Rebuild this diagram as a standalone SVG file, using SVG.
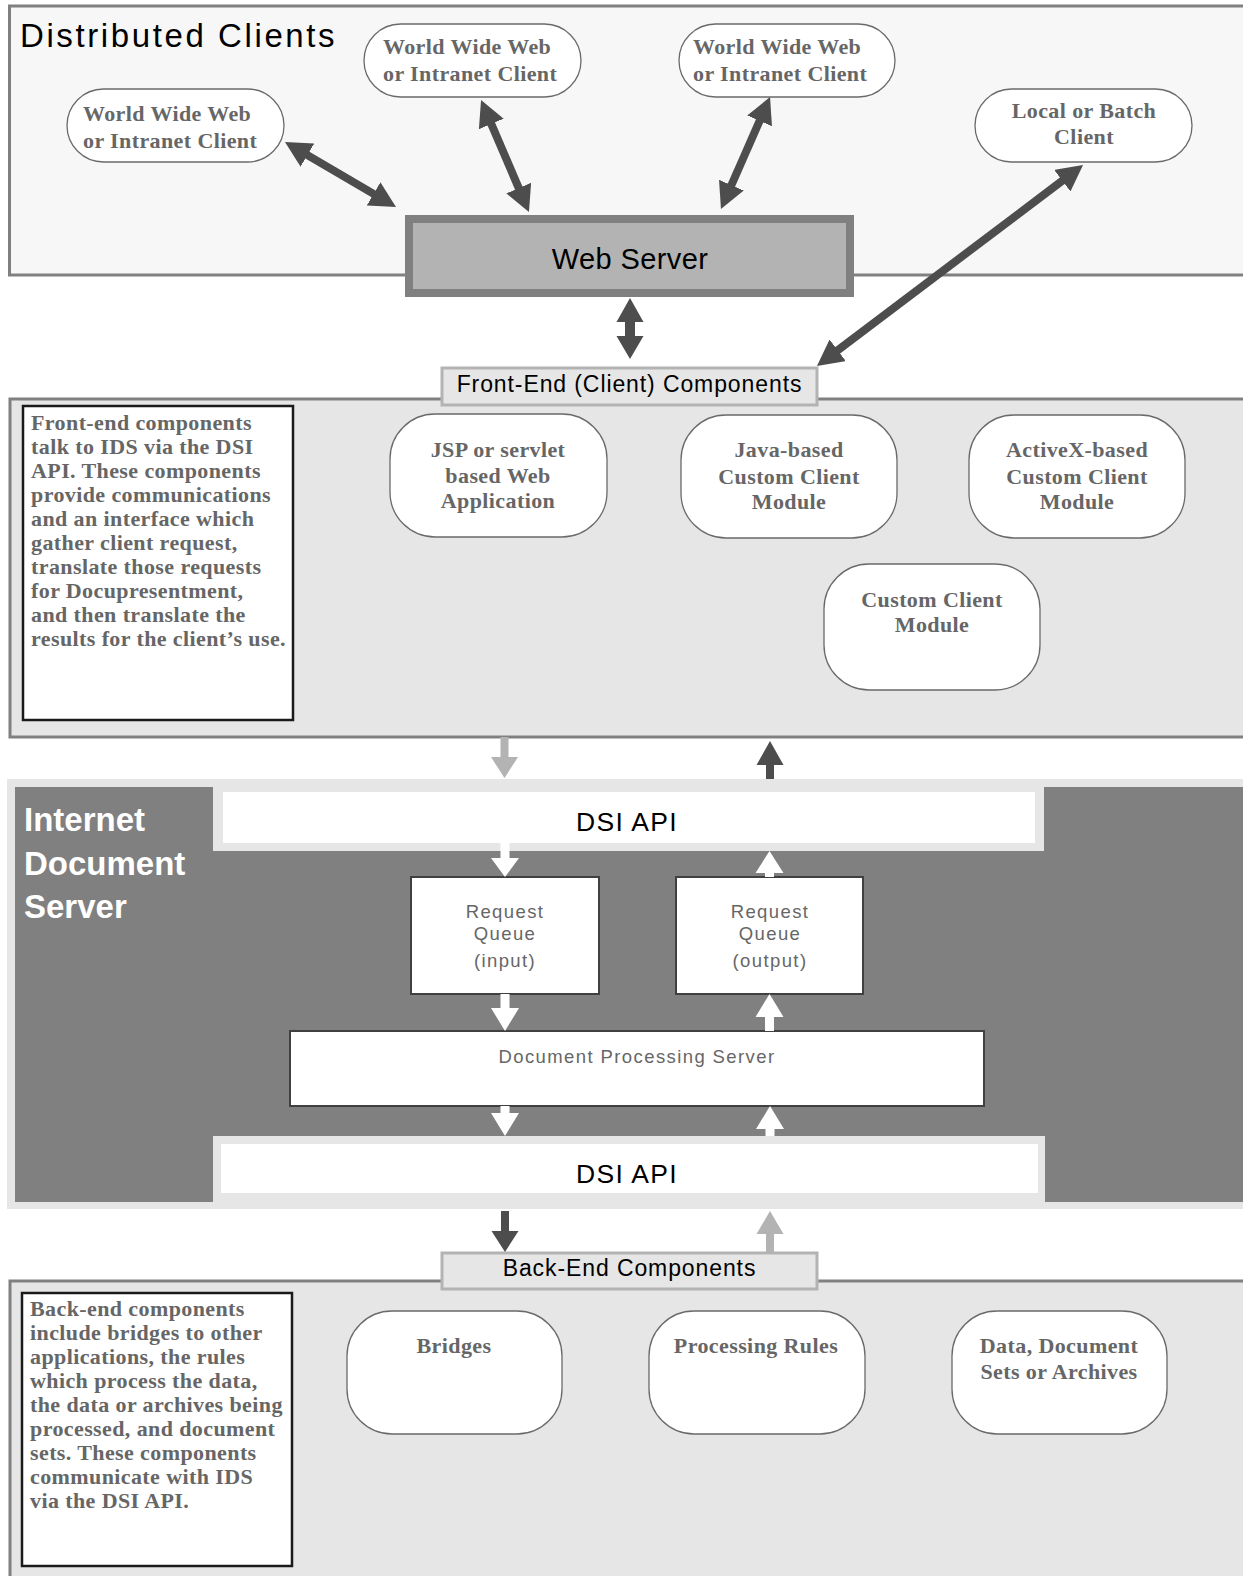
<svg xmlns="http://www.w3.org/2000/svg" width="1243" height="1576" viewBox="0 0 1243 1576">
<defs>
<style>
.panel{stroke:#808080;stroke-width:3}
.pill{fill:#fff;stroke:#6a6a6a;stroke-width:1.3}
.note{fill:#fff;stroke:#1a1a1a;stroke-width:2.5}
.serif{font-family:"Liberation Serif","Times New Roman",serif;font-weight:bold;font-size:22px;fill:#666;letter-spacing:0.4px}
.sans{font-family:"Liberation Sans",Arial,sans-serif}
.lbl{fill:#e6e6e6;stroke:#b3b3b3;stroke-width:3}
.lbltxt{font-family:"Liberation Sans",Arial,sans-serif;font-size:23px;fill:#000;letter-spacing:0.9px}
.q{font-family:"Liberation Sans",Arial,sans-serif;font-size:18.5px;fill:#666;letter-spacing:1.4px}
.box{fill:#fff;stroke:#404040;stroke-width:2}
.dsi{font-family:"Liberation Sans",Arial,sans-serif;font-size:26.5px;fill:#000;letter-spacing:1.3px}
.ids{font-family:"Liberation Sans",Arial,sans-serif;font-weight:bold;font-size:33px;fill:#fff}
.dk{stroke:#4d4d4d;stroke-width:8;fill:none}
</style>
<marker id="ah" markerUnits="userSpaceOnUse" markerWidth="26" markerHeight="27" viewBox="0 0 26 27" refX="2" refY="13.5" orient="auto-start-reverse">
<path d="M0,0 L26,13.5 L0,27 z" fill="#4d4d4d"/>
</marker>
</defs>

<!-- Distributed clients panel -->
<g id="distributed-clients">
<rect class="panel" x="9.5" y="6" width="1245" height="269" fill="#f7f7f7"/>
<text class="sans" x="20" y="47" font-size="33" letter-spacing="2.6" fill="#000">Distributed Clients</text>
</g>

<g id="client-1">
<rect class="pill" x="67" y="89" width="217" height="73" rx="36.5"/>
<text class="serif" x="83" y="121">World Wide Web</text>
<text class="serif" x="83" y="148">or Intranet Client</text>
</g>
<g id="client-2">
<rect class="pill" x="364" y="24" width="217" height="73" rx="36.5"/>
<text class="serif" x="383" y="54">World Wide Web</text>
<text class="serif" x="383" y="81">or Intranet Client</text>
</g>
<g id="client-3">
<rect class="pill" x="679" y="24" width="216" height="73" rx="36.5"/>
<text class="serif" x="693" y="54">World Wide Web</text>
<text class="serif" x="693" y="81">or Intranet Client</text>
</g>
<g id="client-local">
<rect class="pill" x="975" y="89" width="217" height="73" rx="36.5"/>
<text class="serif" x="1084" y="118" text-anchor="middle">Local or Batch</text>
<text class="serif" x="1084" y="144" text-anchor="middle">Client</text>
</g>

<g id="web-server">
<rect x="409" y="219" width="441" height="74" fill="#b3b3b3" stroke="#808080" stroke-width="8"/>
<text class="sans" x="630" y="269" font-size="29" letter-spacing="0.4" text-anchor="middle" fill="#000">Web Server</text>
</g>

<!-- Front-end panel -->
<g id="front-end">
<rect class="panel" x="10" y="399" width="1245" height="338" fill="#e6e6e6"/>
<rect class="lbl" x="442" y="368" width="375" height="37"/>
<text class="lbltxt" x="629.5" y="392" text-anchor="middle">Front-End (Client) Components</text>
</g>

<g id="front-end-note">
<rect class="note" x="23" y="406" width="270" height="314"/>
<text class="serif" x="31" y="430">Front-end components</text>
<text class="serif" x="31" y="454">talk to IDS via the DSI</text>
<text class="serif" x="31" y="478">API. These components</text>
<text class="serif" x="31" y="502">provide communications</text>
<text class="serif" x="31" y="526">and an interface which</text>
<text class="serif" x="31" y="550">gather client request,</text>
<text class="serif" x="31" y="574">translate those requests</text>
<text class="serif" x="31" y="598">for Docupresentment,</text>
<text class="serif" x="31" y="622">and then translate the</text>
<text class="serif" x="31" y="646">results for the client’s use.</text>
</g>

<g id="jsp-app">
<rect class="pill" x="390" y="414" width="217" height="123" rx="45"/>
<text class="serif" x="498" y="457" text-anchor="middle">JSP or servlet</text>
<text class="serif" x="498" y="483" text-anchor="middle">based Web</text>
<text class="serif" x="498" y="508" text-anchor="middle">Application</text>
</g>
<g id="java-client">
<rect class="pill" x="681" y="415" width="216" height="123" rx="45"/>
<text class="serif" x="789" y="457" text-anchor="middle">Java-based</text>
<text class="serif" x="789" y="484" text-anchor="middle">Custom Client</text>
<text class="serif" x="789" y="509" text-anchor="middle">Module</text>
</g>
<g id="activex-client">
<rect class="pill" x="969" y="415" width="216" height="123" rx="45"/>
<text class="serif" x="1077" y="457" text-anchor="middle">ActiveX-based</text>
<text class="serif" x="1077" y="484" text-anchor="middle">Custom Client</text>
<text class="serif" x="1077" y="509" text-anchor="middle">Module</text>
</g>
<g id="custom-client">
<rect class="pill" x="824" y="564" width="216" height="126" rx="45"/>
<text class="serif" x="932" y="607" text-anchor="middle">Custom Client</text>
<text class="serif" x="932" y="632" text-anchor="middle">Module</text>
</g>

<!-- Internet Document Server -->
<g id="ids">
<rect x="7" y="779" width="1240" height="430" fill="#e6e6e6"/>
<rect x="15" y="787" width="1232" height="415" fill="#808080"/>
<rect x="213" y="779" width="831" height="72" fill="#e6e6e6"/>
<rect x="213" y="1136" width="832" height="73" fill="#e6e6e6"/>
<text class="ids" x="24" y="831">Internet</text>
<text class="ids" x="24" y="875">Document</text>
<text class="ids" x="24" y="918">Server</text>
</g>
<g id="dsi-api-top">
<rect x="223" y="792" width="812" height="51" fill="#fff"/>
<text class="dsi" x="627" y="831" text-anchor="middle">DSI API</text>
</g>
<g id="queue-input">
<rect class="box" x="411" y="877" width="188" height="117"/>
<text class="q" x="505" y="918" text-anchor="middle">Request</text>
<text class="q" x="505" y="940" text-anchor="middle">Queue</text>
<text class="q" x="505" y="967" text-anchor="middle">(input)</text>
</g>
<g id="queue-output">
<rect class="box" x="676" y="877" width="187" height="117"/>
<text class="q" x="770" y="918" text-anchor="middle">Request</text>
<text class="q" x="770" y="940" text-anchor="middle">Queue</text>
<text class="q" x="770" y="967" text-anchor="middle">(output)</text>
</g>
<g id="doc-processing-server">
<rect class="box" x="290" y="1031" width="694" height="75"/>
<text class="q" x="637" y="1063" font-size="19" letter-spacing="1.45" text-anchor="middle">Document Processing Server</text>
</g>
<g id="dsi-api-bottom">
<rect x="221" y="1144" width="817" height="49" fill="#fff"/>
<text class="dsi" x="627" y="1183" text-anchor="middle">DSI API</text>
</g>

<!-- Back-end panel -->
<g id="back-end">
<rect class="panel" x="10" y="1281" width="1245" height="310" fill="#e6e6e6"/>
<rect class="lbl" x="442" y="1253" width="375" height="36"/>
<text class="lbltxt" x="629.5" y="1276" text-anchor="middle">Back-End Components</text>
</g>
<g id="back-end-note">
<rect class="note" x="22" y="1293" width="270" height="273"/>
<text class="serif" x="30" y="1316">Back-end components</text>
<text class="serif" x="30" y="1340">include bridges to other</text>
<text class="serif" x="30" y="1364">applications, the rules</text>
<text class="serif" x="30" y="1388">which process the data,</text>
<text class="serif" x="30" y="1412">the data or archives being</text>
<text class="serif" x="30" y="1436">processed, and document</text>
<text class="serif" x="30" y="1460">sets. These components</text>
<text class="serif" x="30" y="1484">communicate with IDS</text>
<text class="serif" x="30" y="1508">via the DSI API.</text>
</g>
<g id="bridges">
<rect class="pill" x="347" y="1311" width="215" height="123" rx="45"/>
<text class="serif" x="454" y="1353" text-anchor="middle">Bridges</text>
</g>
<g id="processing-rules">
<rect class="pill" x="649" y="1311" width="216" height="123" rx="45"/>
<text class="serif" x="756" y="1353" text-anchor="middle">Processing Rules</text>
</g>
<g id="data-archives">
<rect class="pill" x="952" y="1311" width="215" height="123" rx="45"/>
<text class="serif" x="1059" y="1353" text-anchor="middle">Data, Document</text>
<text class="serif" x="1059" y="1379" text-anchor="middle">Sets or Archives</text>
</g>

<!-- Connectors -->
<g id="connectors">
<line class="dk" x1="305.7" y1="154.1" x2="375.3" y2="194.9" marker-start="url(#ah)" marker-end="url(#ah)"/>
<line class="dk" x1="490.5" y1="122.1" x2="519.5" y2="189.9" marker-start="url(#ah)" marker-end="url(#ah)"/>
<line class="dk" x1="760.4" y1="119" x2="730.6" y2="187" marker-start="url(#ah)" marker-end="url(#ah)"/>
<line class="dk" x1="1063.9" y1="179.5" x2="836.1" y2="351.5" marker-start="url(#ah)" marker-end="url(#ah)"/>
<polygon fill="#4d4d4d" points="630,298 643.5,322 635,322 635,336 643.5,336 630,359 616.5,336 625,336 625,322 616.5,322"/>
<polygon fill="#b3b3b3" points="500.5,737 508.5,737 508.5,757 518,757 504.5,778 491,757 500.5,757"/>
<polygon fill="#4d4d4d" points="770,741 783.5,765 774,765 774,779 766,779 766,765 756.5,765"/>
<polygon fill="#fff" points="500.5,843 509.5,843 509.5,858 519,858 505,877 491,858 500.5,858"/>
<polygon fill="#fff" points="500.5,994 509.5,994 509.5,1008 519,1008 505,1031 491,1008 500.5,1008"/>
<polygon fill="#fff" points="500.5,1106 509.5,1106 509.5,1113 519,1113 505,1136 491,1113 500.5,1113"/>
<polygon fill="#fff" points="769.5,851 783.5,873 774,873 774,877 765,877 765,873 755.5,873"/>
<polygon fill="#fff" points="769.5,994 783.5,1017 774,1017 774,1031 765,1031 765,1017 755.5,1017"/>
<polygon fill="#fff" points="770,1106 784,1129 774.5,1129 774.5,1136 765.5,1136 765.5,1129 756,1129"/>
<polygon fill="#4d4d4d" points="501,1211 509,1211 509,1231 518.5,1231 505,1252 491.5,1231 501,1231"/>
<polygon fill="#b3b3b3" points="770,1211 783.5,1234 774,1234 774,1253 766,1253 766,1234 756.5,1234"/>
</g>
</svg>
